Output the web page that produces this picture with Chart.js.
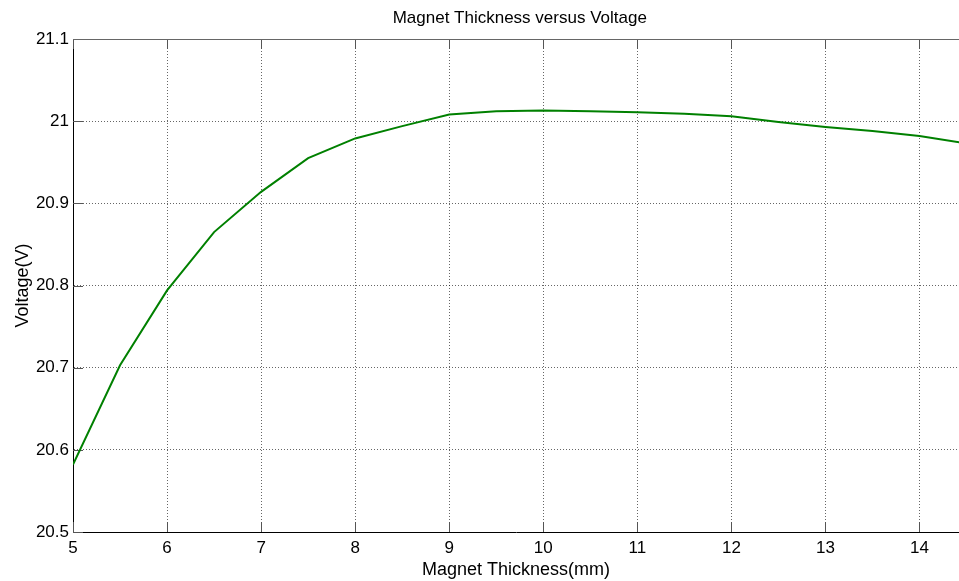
<!DOCTYPE html>
<html>
<head>
<meta charset="utf-8">
<title>Magnet Thickness versus Voltage</title>
<script src="https://cdn.jsdelivr.net/npm/chart.js@4"></script>
<style>
  html, body { margin: 0; padding: 0; background: #fff; }
  #wrap { width: 959px; height: 581px; position: relative; }
</style>
</head>
<body>
<div id="wrap"><canvas id="voltage-chart"></canvas></div>
<script>
// thickness (mm) and output voltage (V)
const thickness = [5, 5.5, 6, 6.5, 7, 7.5, 8, 8.5, 9, 9.5, 10, 10.5, 11, 11.5, 12, 12.5, 13, 13.5, 14, 14.5];
const voltage = [20.582, 20.703, 20.794, 20.865, 20.914, 20.955, 20.979, 20.994, 21.008, 21.012,
                 21.013, 21.012, 21.011, 21.009, 21.006, 20.999, 20.993, 20.988, 20.982, 20.973];
const xTicks = [5, 6, 7, 8, 9, 10, 11, 12, 13, 14];
const yTicks = [20.5, 20.6, 20.7, 20.8, 20.9, 21, 21.1];

const FONT = "'Liberation Sans', Arial, Helvetica, sans-serif";

// title + top edge + inward tick marks, matlab style
const axesDecor = {
    id: 'axesDecor',
    beforeDatasetsDraw(chart) {
        const ctx = chart.ctx;
        const area = chart.chartArea;
        const xs = chart.scales.x;
        const ys = chart.scales.y;
        ctx.save();
        ctx.strokeStyle = '#555';
        ctx.lineWidth = 1;
        ctx.beginPath();
        xTicks.forEach(function(v) {
            const px = Math.round(xs.getPixelForValue(v)) + 0.5;
            ctx.moveTo(px, area.bottom);
            ctx.lineTo(px, area.bottom - 10);
            ctx.moveTo(px, area.top);
            ctx.lineTo(px, area.top + 10);
        });
        yTicks.forEach(function(v) {
            const py = Math.round(ys.getPixelForValue(v)) + 0.5;
            ctx.moveTo(area.left, py);
            ctx.lineTo(area.left + 10, py);
        });
        ctx.stroke();
        ctx.strokeStyle = '#666';
        ctx.beginPath();
        ctx.moveTo(area.left, area.top + 0.5);
        ctx.lineTo(area.right, area.top + 0.5);
        ctx.stroke();
        ctx.restore();
    },
    afterDraw(chart) {
        const ctx = chart.ctx;
        const xs = chart.scales.x;
        ctx.save();
        ctx.fillStyle = '#000';
        ctx.font = '17px ' + FONT;
        ctx.textAlign = 'center';
        ctx.textBaseline = 'alphabetic';
        const mid = (chart.chartArea.left + xs.getPixelForValue(14.5)) / 2;
        ctx.fillText('Magnet Thickness versus Voltage', mid, 23);
        ctx.restore();
    }
};

const points = thickness.map(function(t, i) { return {x: t, y: voltage[i]}; });

const config = {
    type: 'line',
    data: {
        datasets: [{
            data: points,
            borderColor: 'rgb(0, 128, 0)',
            borderWidth: 2,
            pointRadius: 0,
            tension: 0,
            fill: false
        }]
    },
    options: {
        responsive: true,
        maintainAspectRatio: false,
        animation: false,
        layout: { padding: { top: 39, left: 0, right: 0, bottom: 0 } },
        plugins: {
            legend: { display: false },
            tooltip: { enabled: false }
        },
        scales: {
            x: {
                type: 'linear',
                min: 5,
                max: 14.42,
                afterFit: function(scale) { scale.height = 49; },
                afterBuildTicks: function(scale) {
                    scale.ticks = xTicks.map(function(v) { return {value: v}; });
                },
                // border.dash styles the grid lines in v4, the axis line stays solid
                border: { display: true, color: '#000', width: 1, dash: [1, 2] },
                grid: {
                    color: 'rgba(0,0,0,0.6)',
                    lineWidth: 1,
                    drawTicks: false
                },
                ticks: {
                    includeBounds: false,
                    padding: 6,
                    color: '#000',
                    maxRotation: 0,
                    font: { family: FONT, size: 17 }
                },
                title: {
                    display: true,
                    text: 'Magnet Thickness(mm)',
                    color: '#000',
                    padding: { top: 0, bottom: 0 },
                    font: { family: FONT, size: 18 }
                }
            },
            y: {
                type: 'linear',
                min: 20.5,
                max: 21.1,
                afterFit: function(scale) { scale.width = 73; },
                afterBuildTicks: function(scale) {
                    scale.ticks = yTicks.map(function(v) { return {value: v}; });
                },
                border: { display: true, color: '#000', width: 1, dash: [1, 2] },
                grid: {
                    color: 'rgba(0,0,0,0.6)',
                    lineWidth: 1,
                    drawTicks: false
                },
                ticks: {
                    padding: 4,
                    color: '#000',
                    font: { family: FONT, size: 17 },
                    callback: function(v) { return String(Number(v.toFixed(1))); }
                },
                title: {
                    display: true,
                    text: 'Voltage(V)',
                    color: '#000',
                    padding: { top: 12, bottom: 0 },
                    font: { family: FONT, size: 18 }
                }
            }
        }
    },
    plugins: [axesDecor]
};

const context = document.getElementById('voltage-chart').getContext('2d');
const voltageChart = new Chart(context, config);
</script>
</body>
</html>
